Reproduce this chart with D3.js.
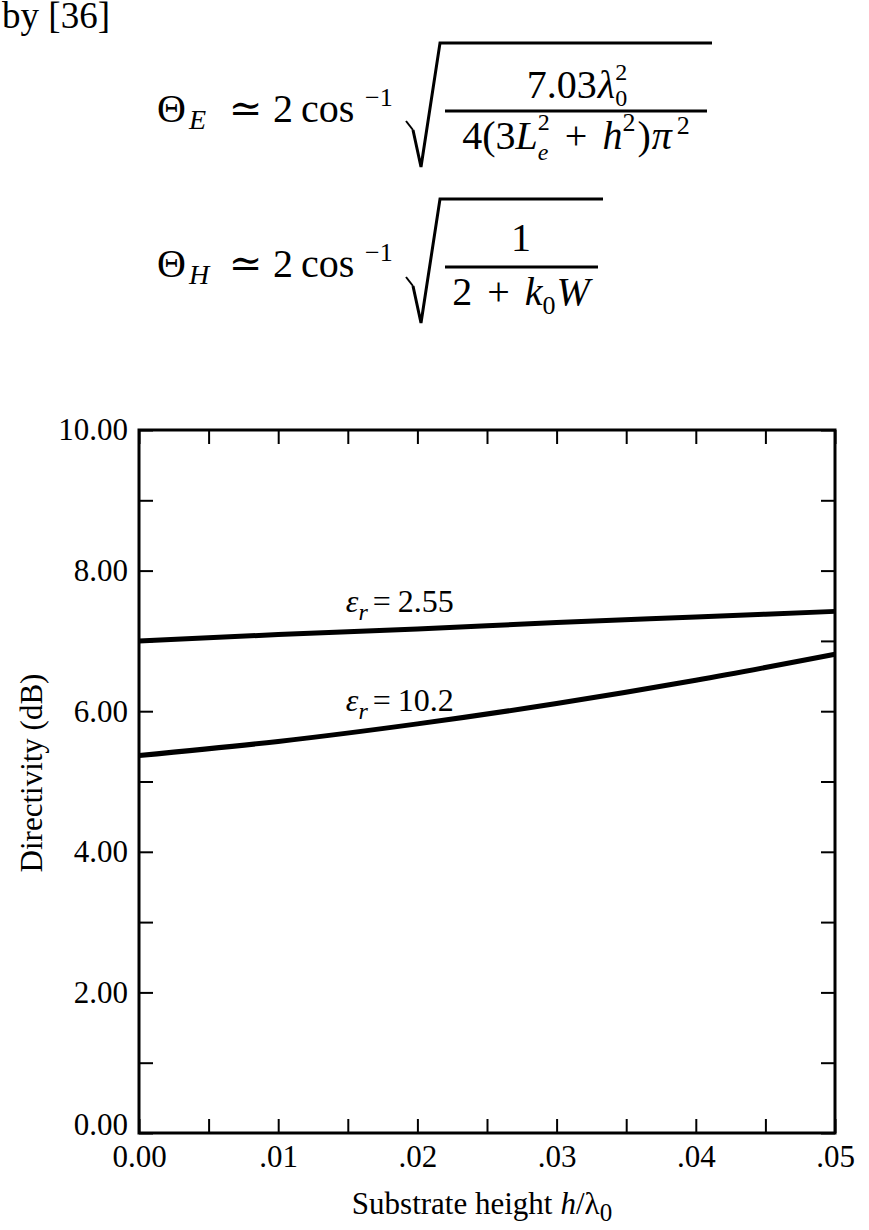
<!DOCTYPE html>
<meta charset="utf-8">
<script src="https://d3js.org/d3.v7.min.js"></script>
<style>
  body { margin: 0; background: #fff; }
  svg text { font-family: "Liberation Serif", "DejaVu Serif", serif; fill: #000; }
</style>
<body>
<div id="my_dataviz"></div>
<script>
// data
const heights = [0, 0.01, 0.02, 0.03, 0.04, 0.05];
const dirEr255 = [7.00, 7.09, 7.17, 7.26, 7.34, 7.42];
const dirEr102 = [5.37, 5.57, 5.82, 6.11, 6.44, 6.81];
const seriesNames = ["2.55", "10.2"];
const xTickLabels = ["0.00", ".01", ".02", ".03", ".04", ".05"];
const yTickLabels = ["0.00", "2.00", "4.00", "6.00", "8.00", "10.00"];

const W = 869, H = 1230;
const margin = {top: 430, right: 34, bottom: 97, left: 139};

const svg = d3.select("#my_dataviz")
  .append("svg")
  .attr("width", W)
  .attr("height", H);

// ---- text above the chart (equations) ----
const F = 40, S = 26;
function put(g, x, y, str, size, italic) {
  const t = g.append("text")
    .attr("x", x).attr("y", y)
    .attr("font-size", size)
    .attr("font-style", italic ? "italic" : "normal")
    .text(str);
  return t.node().getComputedTextLength();
}
// lays out a row of runs, sup/sub stacked on the run they follow
function row(parent, x, y, items, center) {
  const g = parent.append("g");
  let cx = 0;
  items.forEach(d => {
    cx += d.gap || 0;
    cx += put(g, cx, 0, d.t, d.size || F, d.it);
    let w = 0;
    const ss = d.ss || S;
    if (d.sup) w = Math.max(w, put(g, cx + (d.supDx || 0), d.supY || -16, d.sup, ss, d.supIt) + (d.supDx || 0));
    if (d.sub) w = Math.max(w, put(g, cx + (d.subDx || 0), d.subY || 9, d.sub, ss, d.subIt) + (d.subDx || 0));
    cx += w;
  });
  g.attr("transform", `translate(${center ? x - cx / 2 : x},${y})`);
  return cx;
}

const eq = svg.append("g");
eq.append("text")
  .attr("x", 110).attr("y", 28)
  .attr("text-anchor", "end")
  .attr("font-size", 37)
  .text("by [36]");

function lhs(y, sub) {
  put(eq, 157, y, "Θ", F);
  put(eq, 189, y + 7, sub, 28, true);
  put(eq, 229, y, "≃", F);
  put(eq, 273, y, "2", F);
  put(eq, 301, y, "cos", F);
  put(eq, 365, y - 16, "−1", S);
}
function radical(yTop, yBot, x1) {
  eq.append("path")
    .attr("d", `M406,${yBot - 46} L413,${yBot - 37}`)
    .attr("stroke", "#000").attr("stroke-width", 2).attr("fill", "none");
  eq.append("path")
    .attr("d", `M413,${yBot - 37} L421,${yBot} L440,${yTop} L${x1},${yTop}`)
    .attr("stroke", "#000").attr("stroke-width", 3).attr("fill", "none");
}
function fracBar(y, x0, x1) {
  eq.append("line")
    .attr("x1", x0).attr("x2", x1).attr("y1", y).attr("y2", y)
    .attr("stroke", "#000").attr("stroke-width", 3);
}

// Theta_E
lhs(122, "E");
radical(43, 167, 712);
fracBar(111, 445, 707);
row(eq, 577, 98, [
  {t: "7.03"},
  {t: "λ", it: true, gap: 1, sup: "2", sub: "0", supY: -18, subY: 8, ss: 24}
], true);
row(eq, 576, 149, [
  {t: "4(3"},
  {t: "L", it: true, sup: "2", sub: "e", subIt: true, supY: -19, subY: 11, ss: 24},
  {t: "+", gap: 15},
  {t: "h", it: true, gap: 15, sup: "2", supY: -18},
  {t: ")", gap: 2},
  {t: "π", it: true, gap: 1, sup: "2", supDx: 5, supY: -15}
], true);

// Theta_H
lhs(277, "H");
radical(199, 323, 603);
fracBar(267, 445, 598);
row(eq, 521, 251, [{t: "1"}], true);
row(eq, 521, 305, [
  {t: "2"},
  {t: "+", gap: 15},
  {t: "k", it: true, gap: 15, sub: "0", subY: 9},
  {t: "W", it: true, gap: 1}
], true);

// ---- chart ----
const x = d3.scaleLinear()
  .domain([0, 0.05])
  .range([margin.left, W - margin.right]);
const y = d3.scaleLinear()
  .domain([0, 10])
  .range([H - margin.bottom, margin.top]);

const xTicks = d3.range(0, 11).map(i => i * 0.005);
const yTicks = d3.range(0, 11);

const axisFont = 31;

const gx = svg.append("g")
  .attr("transform", `translate(0,${y(0)})`)
  .call(d3.axisBottom(x)
    .tickValues(xTicks)
    .tickSize(-14)
    .tickPadding(12)
    .tickFormat((d, i) => i % 2 === 0 ? xTickLabels[i / 2] : ""));

const gy = svg.append("g")
  .attr("transform", `translate(${x(0)},0)`)
  .call(d3.axisLeft(y)
    .tickValues(yTicks)
    .tickSize(-14)
    .tickPadding(11)
    .tickFormat((d, i) => i % 2 === 0 ? yTickLabels[i / 2] : ""));

const gt = svg.append("g")
  .attr("transform", `translate(0,${y(10)})`)
  .call(d3.axisTop(x).tickValues(xTicks).tickSize(-14).tickFormat(""));

const gr = svg.append("g")
  .attr("transform", `translate(${x(0.05)},0)`)
  .call(d3.axisRight(y).tickValues(yTicks).tickSize(-14).tickFormat(""));

[gx, gy, gt, gr].forEach(g => {
  g.select(".domain").remove();
  g.selectAll(".tick line").attr("stroke", "#000").attr("stroke-width", 2);
  g.selectAll(".tick text")
    .attr("font-size", axisFont)
    .attr("font-family", "Liberation Serif")
    .attr("fill", "#000");
});
// the 0.00 label sits a little above its tick
gy.selectAll(".tick text").filter(d => d === 0).attr("dy", "0.05em");

// frame
svg.append("rect")
  .attr("x", x(0)).attr("y", y(10))
  .attr("width", x(0.05) - x(0))
  .attr("height", y(0) - y(10))
  .attr("fill", "none")
  .attr("stroke", "#000")
  .attr("stroke-width", 3);

// curves
const line = d3.line()
  .x((d, i) => x(heights[i]))
  .y(d => y(d))
  .curve(d3.curveMonotoneX);

svg.selectAll(".curve")
  .data([dirEr255, dirEr102])
  .join("path")
  .attr("class", "curve")
  .attr("d", line)
  .attr("fill", "none")
  .attr("stroke", "#000")
  .attr("stroke-width", 5);

// curve labels
const labelPos = [{x: 0.0150, y: 7.42}, {x: 0.0150, y: 6.02}];
seriesNames.forEach((n, i) => {
  const g = svg.append("g");
  row(g, x(labelPos[i].x) - 2, y(labelPos[i].y) + 1, [
    {t: "ε", it: true, size: 32, sub: "r", subIt: true, subY: 8, ss: 24},
    {t: "=", size: 32, gap: 5},
    {t: n, size: 32, gap: 7}
  ], false);
});

// axis titles
row(svg, 482, 1214, [
  {t: "Substrate height", size: axisFont},
  {t: "h", it: true, size: axisFont, gap: 8},
  {t: "/", size: axisFont},
  {t: "λ", size: axisFont, sub: "0", subY: 7, ss: 25}
], true);

svg.append("text")
  .attr("transform", `translate(42,${773}) rotate(-90)`)
  .attr("text-anchor", "middle")
  .attr("font-size", axisFont)
  .text("Directivity (dB)");
</script>
</body>
